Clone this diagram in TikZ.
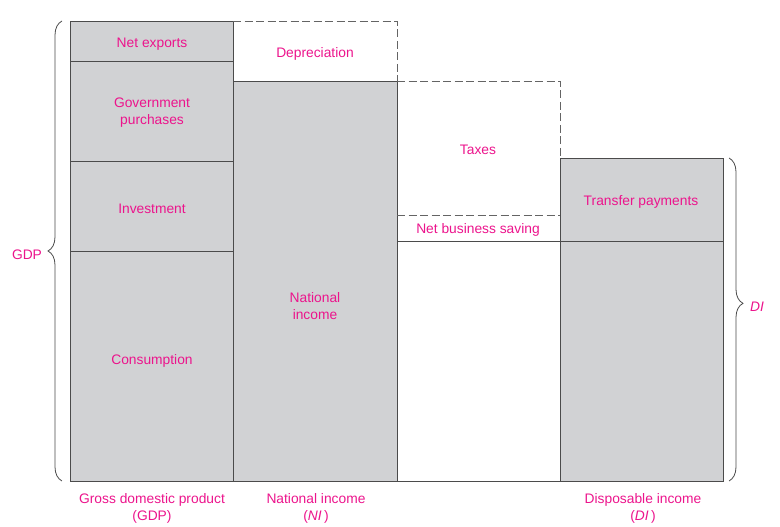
\documentclass[tikz,border=0pt]{standalone}
\usepackage{fontspec}
\setmainfont{Liberation Sans}
\usetikzlibrary{decorations.pathreplacing}

\definecolor{labelpink}{RGB}{236,20,140}
\definecolor{boxgray}{RGB}{209,210,212}
\definecolor{linegray}{RGB}{75,75,75}
\definecolor{dashgray}{RGB}{100,100,100}

\begin{document}
\begin{tikzpicture}[x=1pt,y=1pt]
\tikzstyle{bloc}=[draw=linegray,fill=boxgray,line width=0.8pt]
\tikzstyle{vide}=[draw=linegray,fill=white,line width=0.8pt]
\tikzstyle{pointille}=[draw=dashgray,line width=0.9pt,dash pattern=on 8pt off 3.5pt]
\tikzstyle{etiq}=[text=labelpink,font=\fontsize{13.8}{17}\selectfont,align=center,inner sep=0pt]
\tikzstyle{accolade}=[draw=linegray,line width=0.8pt,decorate]
\useasboundingbox (0,0) rectangle (780,527);
%colonne PIB
\draw[bloc] (70,46) rectangle (233,276);
\draw[bloc] (70,276) rectangle (233,366);
\draw[bloc] (70,366) rectangle (233,466);
\draw[bloc] (70,466) rectangle (233,506);
%colonne revenu national
\draw[bloc] (233,46) rectangle (397,446);
\draw[pointille] (233,506) -- (397,506) -- (397,446);
%colonne impots
\draw[vide] (397,46) rectangle (560,286);
\draw[pointille] (397,446) -- (560,446) -- (560,369);
\draw[pointille] (397,312) -- (560,312);
%colonne revenu disponible
\draw[bloc] (560,46) rectangle (723,286);
\draw[bloc] (560,286) rectangle (723,369);
%accolades
\draw[accolade,decoration={brace,amplitude=14pt}] (62,46) -- (62,506);
\draw[accolade,decoration={brace,amplitude=14pt,aspect=0.45}] (729,369) -- (729,46);
%etiquettes
\node[etiq] (netexp) at (152,483) {Net exports};
\node[etiq] (gov) at (152,414) {Government\\purchases};
\node[etiq] (inv) at (152,318) {Investment};
\node[etiq] (cons) at (152,166) {Consumption};
\node[etiq] (dep) at (315,473) {Depreciation};
\node[etiq] (ni) at (315,221) {National\\income};
\node[etiq] (tax) at (478,377) {Taxes};
\node[etiq] (nbs) at (478,297) {Net business saving};
\node[etiq] (trans) at (641,325) {Transfer payments};
\node[etiq] (gdp) at (27,272) {GDP};
\node[etiq] (di) at (757,220) {\textit{DI}};
\node[etiq] (lgdp) at (152,19) {Gross domestic product\\(GDP)};
\node[etiq] (lni) at (316,19) {National income\\(\textit{NI}\,)};
\node[etiq] (ldi) at (643,19) {Disposable income\\(\textit{DI}\,)};
\end{tikzpicture}
\end{document}
